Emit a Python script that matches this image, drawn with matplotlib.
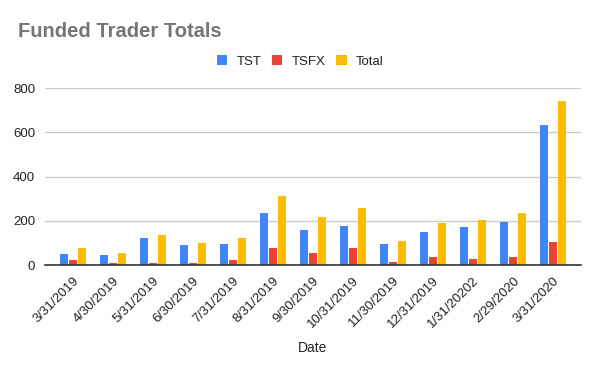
import numpy as np
import matplotlib
matplotlib.use("Agg")
import matplotlib.pyplot as plt
from matplotlib.patches import Patch

# data
dates = ["3/31/2019", "4/30/2019", "5/31/2019", "6/30/2019", "7/31/2019",
         "8/31/2019", "9/30/2019", "10/31/2019", "11/30/2019", "12/31/2019",
         "1/31/20202", "2/29/2020", "3/31/2020"]
tst = [51, 45, 124, 92, 97, 237, 160, 176, 95, 150, 172, 195, 633]
tsfx = [24, 10, 10, 10, 24, 75, 55, 77, 14, 36, 27, 36, 104]
total = [78, 55, 137, 101, 124, 314, 215, 258, 108, 190, 204, 235, 742]

series = [("TST", tst, "#4285F4"), ("TSFX", tsfx, "#EA4335"), ("Total", total, "#FBBC04")]

plt.rcParams["font.family"] = ["Liberation Sans", "DejaVu Sans"]

fig = plt.figure(figsize=(6, 3.71), dpi=100)
ax = fig.add_axes([0.075, 0.2857, 0.893, 0.477])

x = np.arange(len(dates))
width = 0.2
step = 0.224
for i, (name, vals, col) in enumerate(series):
    ax.bar(x + (i - 1) * step, vals, width, color=col, zorder=3)

ax.set_ylim(0, 800)
ax.set_xlim(-0.69, len(dates) - 1 + 0.69)
ax.set_yticks([0, 200, 400, 600, 800])
ax.yaxis.grid(True, color="#cccccc", linewidth=1, zorder=0)
ax.set_axisbelow(True)
for s in ["top", "right", "left"]:
    ax.spines[s].set_visible(False)
ax.spines["bottom"].set_color("#333333")
ax.spines["bottom"].set_linewidth(1.2)
ax.spines["bottom"].set_zorder(4)
ax.tick_params(axis="both", length=0, labelsize=9.5, colors="#222222")
ax.tick_params(axis="y", pad=7)
ax.set_xticks(x)
ax.set_xticklabels(dates, rotation=45, ha="right", rotation_mode="anchor")
ax.tick_params(axis="x", pad=7)
ax.set_xlabel("Date", fontsize=10, color="#222222", labelpad=8)

fig.text(0.03, 0.915, "Funded Trader Totals", fontsize=14.5, fontweight="bold",
         color="#757575", ha="left", va="center")

handles = [Patch(facecolor=c, label=n) for n, _, c in series]
fig.legend(handles=handles, loc="center", bbox_to_anchor=(0.5, 0.835), ncol=3,
           frameon=False, fontsize=9.5, handlelength=0.8, handleheight=0.8,
           columnspacing=0.8, handletextpad=0.7, labelcolor="#222222")

fig.savefig("out.png", dpi=100)
